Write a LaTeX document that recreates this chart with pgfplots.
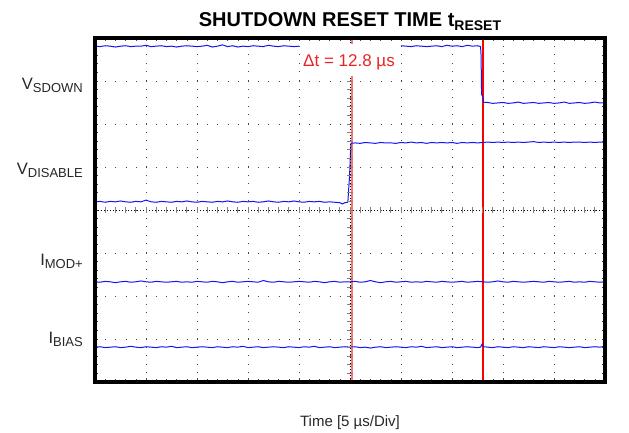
\documentclass[border=0pt]{standalone}
\usepackage{pgfplots}
\pgfplotsset{compat=1.18}
\usepackage{fontspec}
\setmainfont{Liberation Sans}
\definecolor{trace}{RGB}{20,20,245}
\definecolor{cursorA}{RGB}{255,115,115}
\definecolor{cursorB}{RGB}{255,0,0}
\definecolor{dtred}{RGB}{235,35,35}
\definecolor{gridc}{RGB}{70,70,70}
\begin{document}
\begin{tikzpicture}
\path[use as bounding box] (-95bp,-51bp) rectangle (534bp,382bp);
\begin{axis}[
  scale only axis, width=510bp, height=344bp,
  xmin=0, xmax=10, ymin=0, ymax=8,
  axis line style={draw=none},
  xtick={0,...,10}, ytick={0,...,8},
  minor x tick num=4, minor y tick num=4,
  xticklabels={}, yticklabels={},
  tick align=inside, major tick length=3.5bp, minor tick length=3bp,
  tick style={gridc, line width=0.6bp},
  grid=major,
  x grid style={gridc, line width=0.9bp, dash pattern=on 0.9bp off 7.7bp},
  y grid style={gridc, line width=0.9bp, dash pattern=on 0.9bp off 9.3bp},
  clip=true,
]
% cursors
\addplot[color=cursorA, line width=2.8bp] coordinates {(5.04,0) (5.04,8)};
\addplot[color=cursorB, line width=1.4bp] coordinates {(7.61,0) (7.61,8)};
% V_SDOWN
\addplot[color=trace, line width=1bp] coordinates {
(0.0,7.81)(0.1,7.80)(0.2,7.82)(0.3,7.81)(0.4,7.79)(0.5,7.81)(0.6,7.82)(0.7,7.80)(0.8,7.81)(0.9,7.81)
(1.0,7.83)(1.1,7.80)(1.2,7.81)(1.3,7.82)(1.4,7.80)(1.5,7.81)(1.6,7.79)(1.7,7.81)(1.8,7.82)(1.9,7.81)
(2.0,7.80)(2.1,7.81)(2.2,7.83)(2.3,7.79)(2.4,7.81)(2.5,7.84)(2.6,7.80)(2.7,7.82)(2.8,7.79)(2.9,7.81)
(3.0,7.80)(3.1,7.82)(3.2,7.81)(3.3,7.80)(3.4,7.83)(3.5,7.81)(3.6,7.80)(3.7,7.82)(3.8,7.81)(3.9,7.80)(4.0,7.81)};
\addplot[color=trace, line width=1bp] coordinates {
(6.0,7.82)(6.1,7.81)(6.2,7.80)(6.3,7.82)(6.4,7.81)(6.5,7.80)(6.6,7.81)(6.7,7.82)(6.8,7.80)(6.9,7.83)
(7.0,7.81)(7.1,7.82)(7.2,7.80)(7.3,7.83)(7.4,7.81)(7.5,7.82)(7.56,7.80)(7.57,7.60)(7.58,6.68)(7.60,6.66)(7.62,6.50)
(7.7,6.50)(7.8,6.48)(7.9,6.49)(8.0,6.50)(8.1,6.48)(8.2,6.49)(8.3,6.51)(8.4,6.48)(8.5,6.49)(8.6,6.50)
(8.7,6.48)(8.8,6.49)(8.9,6.50)(9.0,6.48)(9.1,6.49)(9.2,6.51)(9.3,6.48)(9.4,6.49)(9.5,6.50)(9.6,6.48)
(9.7,6.49)(9.8,6.51)(9.9,6.49)(10.0,6.49)};
% V_DISABLE
\addplot[color=trace, line width=1bp] coordinates {
(0.0,4.19)(0.1,4.20)(0.2,4.18)(0.3,4.20)(0.4,4.19)(0.5,4.21)(0.6,4.19)(0.7,4.18)(0.8,4.20)(0.9,4.19)
(1.0,4.23)(1.1,4.19)(1.2,4.18)(1.3,4.20)(1.4,4.19)(1.5,4.18)(1.6,4.20)(1.7,4.19)(1.8,4.21)(1.9,4.19)
(2.0,4.18)(2.1,4.20)(2.2,4.19)(2.3,4.18)(2.4,4.20)(2.5,4.19)(2.6,4.21)(2.7,4.19)(2.8,4.18)(2.9,4.20)
(3.0,4.19)(3.1,4.20)(3.2,4.18)(3.3,4.19)(3.4,4.21)(3.5,4.19)(3.6,4.18)(3.7,4.20)(3.8,4.19)(3.9,4.21)
(4.0,4.19)(4.1,4.18)(4.2,4.20)(4.3,4.19)(4.4,4.20)(4.5,4.18)(4.6,4.19)(4.7,4.18)(4.8,4.17)(4.85,4.14)
(4.9,4.17)(4.95,4.18)(4.96,4.22)(4.97,4.40)(4.98,4.60)(4.99,4.75)(5.00,5.05)(5.01,5.35)(5.02,5.55)
(5.1,5.56)(5.2,5.55)(5.3,5.57)(5.4,5.56)(5.5,5.55)(5.6,5.57)(5.7,5.56)(5.8,5.56)(5.9,5.55)(6.0,5.57)
(6.1,5.56)(6.2,5.58)(6.3,5.56)(6.4,5.57)(6.5,5.55)(6.6,5.57)(6.7,5.56)(6.8,5.57)(6.9,5.56)(7.0,5.57)
(7.1,5.55)(7.2,5.57)(7.3,5.56)(7.4,5.57)(7.5,5.56)(7.6,5.57)(7.7,5.58)(7.8,5.57)(7.9,5.58)(8.0,5.57)
(8.1,5.58)(8.2,5.57)(8.3,5.58)(8.4,5.57)(8.5,5.58)(8.6,5.59)(8.7,5.57)(8.8,5.58)(8.9,5.57)(9.0,5.58)
(9.1,5.57)(9.2,5.58)(9.3,5.57)(9.4,5.58)(9.5,5.58)(9.6,5.57)(9.7,5.58)(9.8,5.57)(9.9,5.58)(10.0,5.58)};
% I_MOD+
\addplot[color=trace, line width=1bp] coordinates {
(0.0,2.33)(0.1,2.32)(0.2,2.34)(0.3,2.33)(0.4,2.31)(0.5,2.33)(0.6,2.34)(0.7,2.32)(0.8,2.33)(0.9,2.35)
(1.0,2.33)(1.1,2.32)(1.2,2.34)(1.3,2.33)(1.4,2.32)(1.5,2.33)(1.6,2.34)(1.7,2.32)(1.8,2.33)(1.9,2.32)
(2.0,2.34)(2.1,2.33)(2.2,2.32)(2.3,2.34)(2.4,2.33)(2.5,2.31)(2.6,2.33)(2.7,2.34)(2.8,2.32)(2.9,2.33)
(3.0,2.34)(3.1,2.33)(3.2,2.32)(3.3,2.36)(3.4,2.33)(3.5,2.32)(3.6,2.34)(3.7,2.33)(3.8,2.32)(3.9,2.33)
(4.0,2.34)(4.1,2.33)(4.2,2.32)(4.3,2.34)(4.4,2.33)(4.5,2.31)(4.6,2.33)(4.7,2.34)(4.8,2.32)(4.9,2.33)
(5.0,2.33)(5.1,2.34)(5.2,2.32)(5.3,2.33)(5.4,2.36)(5.5,2.33)(5.6,2.31)(5.7,2.33)(5.8,2.34)(5.9,2.32)
(6.0,2.33)(6.1,2.34)(6.2,2.32)(6.3,2.33)(6.4,2.32)(6.5,2.34)(6.6,2.33)(6.7,2.32)(6.8,2.34)(6.9,2.33)
(7.0,2.32)(7.1,2.33)(7.2,2.34)(7.3,2.32)(7.4,2.33)(7.5,2.34)(7.6,2.33)(7.7,2.32)(7.8,2.33)(7.9,2.35)
(8.0,2.33)(8.1,2.32)(8.2,2.34)(8.3,2.33)(8.4,2.32)(8.5,2.33)(8.6,2.34)(8.7,2.33)(8.8,2.32)(8.9,2.34)
(9.0,2.33)(9.1,2.32)(9.2,2.33)(9.3,2.34)(9.4,2.32)(9.5,2.33)(9.6,2.32)(9.7,2.34)(9.8,2.33)(9.9,2.32)(10.0,2.33)};
% I_BIAS
\addplot[color=trace, line width=1bp] coordinates {
(0.0,0.81)(0.1,0.82)(0.2,0.80)(0.3,0.81)(0.4,0.82)(0.5,0.80)(0.6,0.81)(0.7,0.83)(0.8,0.81)(0.9,0.80)
(1.0,0.82)(1.1,0.81)(1.2,0.80)(1.3,0.82)(1.4,0.81)(1.5,0.83)(1.6,0.80)(1.7,0.81)(1.8,0.82)(1.9,0.80)
(2.0,0.81)(2.1,0.82)(2.2,0.81)(2.3,0.80)(2.4,0.82)(2.5,0.81)(2.6,0.80)(2.7,0.82)(2.8,0.81)(2.9,0.83)
(3.0,0.80)(3.1,0.81)(3.2,0.82)(3.3,0.80)(3.4,0.81)(3.5,0.82)(3.6,0.81)(3.7,0.80)(3.8,0.82)(3.9,0.81)
(4.0,0.80)(4.1,0.82)(4.2,0.81)(4.3,0.83)(4.4,0.80)(4.5,0.81)(4.6,0.82)(4.7,0.80)(4.8,0.81)(4.9,0.82)
(5.0,0.81)(5.1,0.82)(5.2,0.80)(5.3,0.81)(5.4,0.79)(5.5,0.81)(5.6,0.82)(5.7,0.80)(5.8,0.81)(5.9,0.82)
(6.0,0.81)(6.1,0.80)(6.2,0.82)(6.3,0.81)(6.4,0.83)(6.5,0.80)(6.6,0.81)(6.7,0.82)(6.8,0.80)(6.9,0.81)
(7.0,0.82)(7.1,0.80)(7.2,0.81)(7.3,0.82)(7.4,0.81)(7.5,0.80)(7.56,0.81)(7.59,0.88)(7.62,0.82)(7.7,0.81)
(7.8,0.80)(7.9,0.82)(8.0,0.81)(8.1,0.80)(8.2,0.82)(8.3,0.81)(8.4,0.80)(8.5,0.82)(8.6,0.81)(8.7,0.80)
(8.8,0.82)(8.9,0.81)(9.0,0.80)(9.1,0.82)(9.2,0.81)(9.3,0.80)(9.4,0.81)(9.5,0.82)(9.6,0.80)(9.7,0.81)
(9.8,0.82)(9.9,0.81)(10.0,0.83)};
\end{axis}
% centre graticule lines
\draw[black, line width=0.8bp, dash pattern=on 0.8bp off 2.2bp] (0,172bp) -- (510bp,172bp);
\draw[black, line width=0.8bp, dash pattern=on 0.8bp off 2.2bp] (255bp,0) -- (255bp,344bp);
\foreach \i in {1,...,49} {\draw[gray, line width=0.8bp] (\i*10.2bp,169bp) -- (\i*10.2bp,175bp);}
\foreach \j in {1,...,39} {\draw[gray, line width=0.8bp] (252bp,\j*8.6bp) -- (258bp,\j*8.6bp);}
% frame
\draw[black, line width=3.6bp] (0,0) rectangle (510bp,344bp);
% delta t label
\fill[white] (205bp,306bp) rectangle (305bp,338bp);
\node[anchor=base, text=dtred, font=\fontsize{17bp}{20bp}\selectfont, inner sep=0pt] at (254bp,315bp) {Δt = 12.8 µs};
% title
\node[anchor=base, font=\fontsize{20bp}{24bp}\selectfont\bfseries, inner sep=0pt] at (255bp,355bp)
  {SHUTDOWN RESET TIME t\raisebox{-3.5bp}{\fontsize{14bp}{16bp}\selectfont RESET}};
% signal labels
\newcommand{\siglab}[2]{#1\raisebox{-3bp}{\fontsize{13bp}{15bp}\selectfont #2}}
\node[anchor=base east, font=\fontsize{16.5bp}{20bp}\selectfont, inner sep=0pt, text=black!85] at (-12bp,292bp) {\siglab{V}{SDOWN}};
\node[anchor=base east, font=\fontsize{16.5bp}{20bp}\selectfont, inner sep=0pt, text=black!85] at (-12bp,207bp) {\siglab{V}{DISABLE}};
\node[anchor=base east, font=\fontsize{16.5bp}{20bp}\selectfont, inner sep=0pt, text=black!85] at (-12bp,116bp) {\siglab{I}{MOD+}};
\node[anchor=base east, font=\fontsize{16.5bp}{20bp}\selectfont, inner sep=0pt, text=black!85] at (-12bp,39bp) {\siglab{I}{BIAS}};
% x label
\node[anchor=base, font=\fontsize{15bp}{18bp}\selectfont, inner sep=0pt, text=black!85] at (255bp,-44bp) {Time [5 µs/Div]};
\end{tikzpicture}
\end{document}
